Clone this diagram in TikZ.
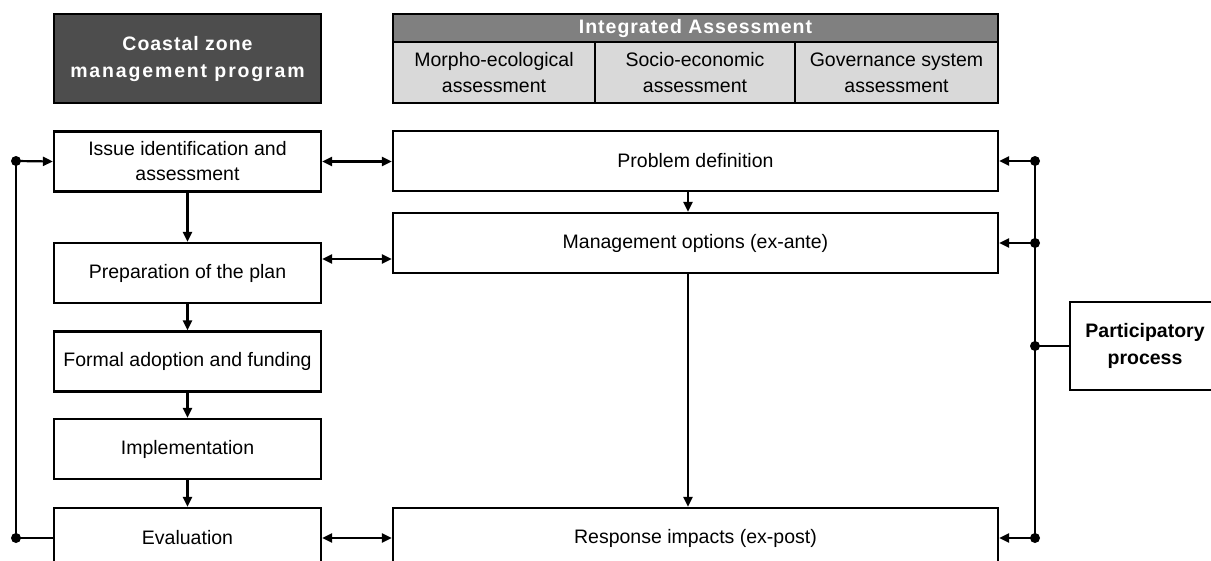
\documentclass[tikz,border=0pt]{standalone}
\usepackage{fontspec}
\setmainfont{Liberation Sans}
\newfontfamily\hdfont[LetterSpace=5,BoldFeatures={LetterSpace=5}]{Liberation Sans}
\newfontfamily\hdwide[LetterSpace=9.5,BoldFeatures={LetterSpace=9.5}]{Liberation Sans}
\usetikzlibrary{arrows.meta,calc}
\definecolor{darkbox}{RGB}{77,77,77}
\definecolor{headbox}{RGB}{128,128,128}
\definecolor{cellbox}{RGB}{217,217,217}
\begin{document}
\begin{tikzpicture}[x=1pt,y=-1pt,
  box/.style={draw=black,line width=2.2pt,fill=white,minimum width=267pt,minimum height=60pt,inner sep=0pt,align=center,font=\fontsize{19.5}{25}\selectfont},
  wbox/.style={box,minimum width=605pt},
  cell/.style={box,fill=cellbox,minimum height=61pt,font=\fontsize{19.5}{26}\selectfont},
  arr/.style={line width=2.2pt,-{Triangle[length=10pt,width=9pt]}},
  darr/.style={line width=2.2pt,{Triangle[length=10pt,width=9pt]}-{Triangle[length=10pt,width=9pt]}},
  ln/.style={line width=2.2pt},
  dot/.style={circle,fill=black,inner sep=0pt,minimum size=10pt}]
\useasboundingbox (0,0) rectangle (1211,560);
% headers
\node[box,fill=darkbox,minimum height=89pt,text=white,font=\fontsize{19.5}{27}\selectfont\hdfont\bfseries] (czm) at (187.5,58.5) {Coastal zone\\{\hdwide\bfseries management program}};
\node[box,fill=headbox,minimum width=605pt,minimum height=28pt,text=white,font=\fontsize{19.5}{24}\selectfont\hdfont\bfseries] (ia) at (695.5,28) {Integrated Assessment};
\node[cell,minimum width=202pt] (c1) at (494,72.5) {Morpho-ecological\\assessment};
\node[cell,minimum width=200pt] (c2) at (695,72.5) {Socio-economic\\assessment};
\node[cell,minimum width=203pt] (c3) at (896.5,72.5) {Governance system\\assessment};
% left column
\node[box] (issue) at (187.5,161.5) {Issue identification and\\assessment};
\node[box] (prep) at (187.5,273) {Preparation of the plan};
\node[box] (formal) at (187.5,361.5) {Formal adoption and funding};
\node[box] (impl) at (187.5,449) {Implementation};
\node[box] (eval) at (187.5,538) {Evaluation};
% right column
\node[wbox] (prob) at (695.5,161) {Problem definition};
\node[wbox] (mgmt) at (695.5,243) {Management options (ex-ante)};
\node[wbox] (resp) at (695.5,538) {Response impacts (ex-post)};
% participatory
\node[box,minimum width=150pt,minimum height=88pt,font=\fontsize{19.5}{27}\selectfont\bfseries] (part) at (1145,346) {Participatory\\process};
% dots
\node[dot] (dl1) at (16,161) {};
\node[dot] (dl2) at (16,538) {};
\node[dot] (dr1) at (1035,161) {};
\node[dot] (dr2) at (1035,243) {};
\node[dot] (dr3) at (1035,346) {};
\node[dot] (dr4) at (1035,538) {};
\coordinate (vx) at (688,0);
\coordinate (py) at ($(prep.east)+(0,-14)$);
% left flow
\draw[arr] (issue) -- (prep);
\draw[arr] (prep) -- (formal);
\draw[arr] (formal) -- (impl);
\draw[arr] (impl) -- (eval);
% feedback left
\draw[ln] (dl1.center) -- (dl2.center);
\draw[arr] (dl1.center) -- (issue.west);
\draw[ln] (eval.west) -- (dl2.center);
% cross links
\draw[darr] (issue.east) -- (prob.west |- issue.east);
\draw[darr] (py) -- (mgmt.west |- py);
\draw[darr] (eval.east) -- (resp.west |- eval.east);
% right flow
\draw[arr] (prob.south -| vx) -- (mgmt.north -| vx);
\draw[arr] (mgmt.south -| vx) -- (resp.north -| vx);
% feedback right
\draw[ln] (dr1.center) -- (dr4.center);
\draw[arr] (dr1.center) -- (prob.east |- dr1);
\draw[arr] (dr2.center) -- (mgmt.east |- dr2);
\draw[arr] (dr4.center) -- (resp.east |- dr4);
\draw[ln] (dr3.center) -- (part.west);
\end{tikzpicture}
\end{document}
